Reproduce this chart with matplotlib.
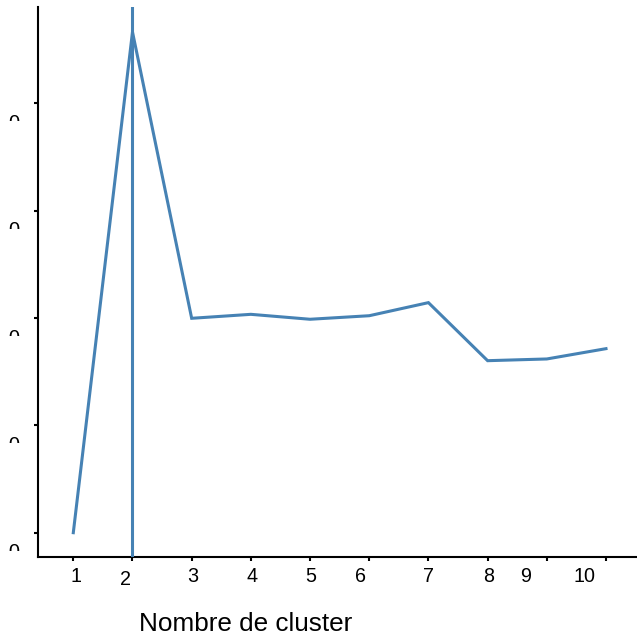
import matplotlib
matplotlib.use("Agg")
import matplotlib.pyplot as plt
from matplotlib import transforms as mtransforms

plt.rcParams['font.family'] = ['Liberation Sans', 'DejaVu Sans']

# ---- data ----
clusters = [1, 2, 3, 4, 5, 6, 7, 8, 9, 10]
silhouette = [0.0, 0.4666, 0.1998, 0.2035, 0.1989, 0.2022, 0.2144, 0.1603, 0.1619, 0.1715]
optimal_k = 2
yticks = [0.0, 0.1, 0.2, 0.3, 0.4]
ytick_labels = ["0.00", "0.10", "0.20", "0.30", "0.40"]
xtick_labels = ["1", "2", "3", "4", "5", "6", "7", "8", "9", "10"]
xlabel = "Nombre de cluster"

# ---- style ----
W, H = 637, 635
DPI = 100
blue = "#4682B4"
fig = plt.figure(figsize=(W / DPI, H / DPI), dpi=DPI)
ax = fig.add_axes([38.3 / W, (H - 557) / H, 1 - 38.3 / W, (557 - 7) / H])

ax.plot(clusters, silhouette, color=blue, lw=2.2, solid_joinstyle="miter", zorder=3)
ax.axvline(optimal_k, color=blue, lw=2.2, zorder=3)

ax.set_xlim(0.4087, 10.524)
ax.set_ylim(-0.02265, 0.4899)

for s in ["top", "right"]:
    ax.spines[s].set_visible(False)
for s in ["left", "bottom"]:
    ax.spines[s].set_linewidth(1.5)
    ax.spines[s].set_color("black")

ax.set_xticks(clusters)
ax.set_yticks(yticks)
ax.tick_params(axis="both", direction="out", length=3, width=1.5, color="black",
               labelleft=False, labelbottom=False)

# x tick labels with individual offsets (pixels)
x_off = [2.7, -7.3, 1.0, 1.0, 0.7, -8.6, 0.0, 1.0, -21.7, -21.0]
y_off = [0, -3.5, 0, 0, 0, 0, 0, 0, 0, 0]
blend = mtransforms.blended_transform_factory(ax.transData, ax.transAxes)
for k, lab, dx, dy in zip(clusters, xtick_labels, x_off, y_off):
    tr = blend + mtransforms.ScaledTranslation(dx / DPI, (-24.5 + dy) / DPI, fig.dpi_scale_trans)
    ax.text(k, 0, lab, transform=tr, ha="center", va="baseline", fontsize=14.2,
            color="black", clip_on=False)

# y tick labels: mostly cut off at the left edge (only top of last glyph visible)
fig.canvas.draw()
ident = mtransforms.IdentityTransform()
for v, lab in zip(yticks, ytick_labels):
    ty = ax.transData.transform((1, v))[1]
    top = ty - 11.5
    t = fig.text(20.0, top - 14.2, lab, transform=ident, ha="right", va="baseline",
                 fontsize=14.5, color="black")
    t.set_clip_box(mtransforms.Bbox.from_extents(9.0, top - 6.5, 23, top + 1.0))
    t.set_clip_on(True)

fig.text(245.5 / W, 4.3 / H, xlabel, ha="center", va="baseline", fontsize=18.8, color="black")

fig.savefig("out.png", dpi=DPI)
